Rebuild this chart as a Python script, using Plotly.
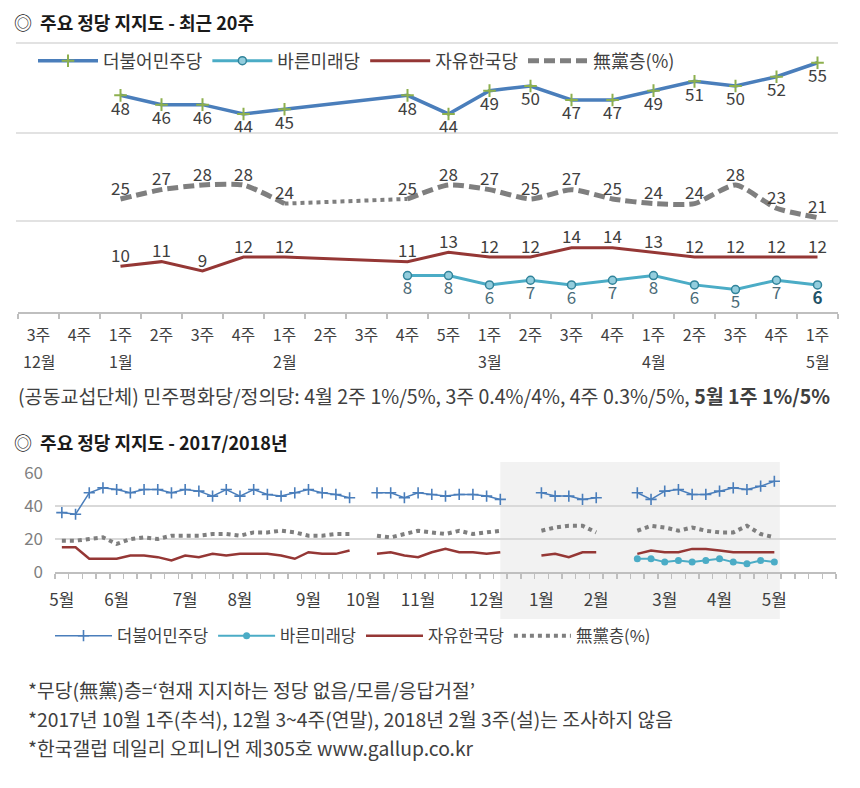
import plotly.graph_objects as go

# ---------------- data (weekly, 2017 May wk1 .. 2018 May wk1; None = no survey) -------------
minju = [36, 35, 48, 51, 50, 48, 50, 50, 48, 50, 49, 46, 50, 46, 50, 47, 46, 48, 50, 48, 47, 45,
         None,
         48, 48, 45, 48, 47, 46, 47, 47, 46, 44,
         None, None,
         48, 46, 46, 44, 45,
         None, None,
         48, 44, 49, 50, 47, 47, 49, 51, 50, 52, 55]
bareun = [None] * 42 + [8, 8, 6, 7, 6, 7, 8, 6, 5, 7, 6]
jayu = [15, 15, 8, 8, 8, 10, 10, 9, 7, 10, 9, 11, 10, 11, 11, 11, 10, 8, 12, 11, 11, 13,
        None,
        11, 12, 10, 9, 12, 14, 12, 12, 11, 12,
        None, None,
        10, 11, 9, 12, 12,
        None, None,
        11, 13, 12, 12, 14, 14, 13, 12, 12, 12, 12]
mudang = [19, 19, 20, 21, 17, 20, 21, 20, 22, 22, 22, 23, 23, 22, 24, 24, 25, 24, 22, 22, 23, 23,
          None,
          22, 21, 23, 25, 24, 23, 25, 23, 24, 25,
          None, None,
          25, 27, 28, 28, 24,
          None, None,
          25, 28, 27, 25, 27, 25, 24, 24, 28, 23, 21]

series_names = ["더불어민주당", "바른미래당", "자유한국당", "無黨층(%)"]

weeks_top = ["3주", "4주", "1주", "2주", "3주", "4주", "1주", "2주", "3주", "4주", "5주",
             "1주", "2주", "3주", "4주", "1주", "2주", "3주", "4주", "1주"]
months_top = ["12월", "", "1월", "", "", "", "2월", "", "", "", "", "3월", "", "", "",
              "4월", "", "", "", "5월"]

year_month_pos = [0, 4, 9, 13, 18, 22, 26, 31, 35, 39, 44, 48, 52]
year_month_labels = ["5월", "6월", "7월", "8월", "9월", "10월", "11월", "12월",
                     "1월", "2월", "3월", "4월", "5월"]
year_slots = 57

N_TOP = 20

# ---------------- styling helpers ----------------
W, H = 860, 788
FONT = "Noto Sans CJK KR"
TXT = "#404040"
GRID = "#d9d9d9"
AXC = "#bfbfbf"
C_BLUE, C_TEAL, C_RED, C_GRAY = "#4a7ebb", "#4bacc6", "#953735", "#7f7f7f"


def py(p):
    return 1 - p / H


def px(p):
    return p / W


def top(s):
    return s[-N_TOP:]


def labels(s):
    return ["" if v is None else str(v) for v in s]


xt = list(range(N_TOP))
xy = list(range(len(minju)))

fig = go.Figure()

# ---------------- top chart (recent 20 weeks) ----------------
fig.add_trace(go.Scatter(
    x=xt, y=top(minju), name=series_names[0], xaxis="x", yaxis="y", legend="legend",
    mode="lines+markers+text", text=labels(top(minju)), textposition="bottom center",
    textfont=dict(size=17, color=TXT, family=FONT), connectgaps=True, cliponaxis=False,
    line=dict(color=C_BLUE, width=3.5),
    marker=dict(symbol="cross-thin", size=9, color="#8db04e", line=dict(color="#8db04e", width=2))))

b_top = top(bareun)
b_txt = labels(b_top)
b_col = ["#4b6b78"] * N_TOP
last = max(i for i, v in enumerate(b_top) if v is not None)
b_txt[last] = "<b>" + b_txt[last] + "</b>"
b_col[last] = "#1f5468"
fig.add_trace(go.Scatter(
    x=xt, y=b_top, name=series_names[1], xaxis="x", yaxis="y3", legend="legend",
    mode="lines+markers+text", text=b_txt, textposition="bottom center",
    textfont=dict(size=17, color=b_col, family=FONT), cliponaxis=False,
    line=dict(color=C_TEAL, width=3),
    marker=dict(symbol="circle", size=8, color="#93cddd", line=dict(color="#31849b", width=1.5))))

fig.add_trace(go.Scatter(
    x=xt, y=top(jayu), name=series_names[2], xaxis="x", yaxis="y3", legend="legend",
    mode="lines+text", text=labels(top(jayu)), textposition="top center",
    textfont=dict(size=17, color=TXT, family=FONT), connectgaps=True, cliponaxis=False,
    line=dict(color=C_RED, width=3)))

m_top = top(mudang)
fig.add_trace(go.Scatter(
    x=xt, y=m_top, name=series_names[3], xaxis="x", yaxis="y2", legend="legend",
    mode="lines+text", text=labels(m_top), textposition="top center",
    textfont=dict(size=17, color=TXT, family=FONT), connectgaps=False, cliponaxis=False,
    line=dict(color=C_GRAY, width=5, dash="11px,5px", shape="spline", smoothing=0.6)))

# dotted bridge across the unsurveyed weeks of the non-partisan line
bridge = [None] * N_TOP
for i in range(1, N_TOP):
    if m_top[i] is not None and m_top[i - 1] is None:
        j = i - 1
        while j >= 0 and m_top[j] is None:
            j -= 1
        if j >= 0:
            bridge[j] = m_top[j]
            bridge[i] = m_top[i]
fig.add_trace(go.Scatter(
    x=xt, y=bridge, xaxis="x", yaxis="y2", mode="lines", connectgaps=True, showlegend=False,
    hoverinfo="skip", line=dict(color=C_GRAY, width=4, dash="dot")))

# ---------------- bottom chart (2017/2018) ----------------
fig.add_trace(go.Scatter(
    x=xy, y=minju, name=series_names[0], xaxis="x2", yaxis="y4", legend="legend2",
    mode="lines+markers", line=dict(color=C_BLUE, width=1.5),
    marker=dict(symbol="cross-thin", size=8, color=C_BLUE, line=dict(color=C_BLUE, width=1.6))))
fig.add_trace(go.Scatter(
    x=xy, y=bareun, name=series_names[1], xaxis="x2", yaxis="y4", legend="legend2",
    mode="lines+markers", line=dict(color=C_TEAL, width=2),
    marker=dict(symbol="circle", size=7, color=C_TEAL)))
fig.add_trace(go.Scatter(
    x=xy, y=jayu, name=series_names[2], xaxis="x2", yaxis="y4", legend="legend2",
    mode="lines", line=dict(color=C_RED, width=2.5)))
fig.add_trace(go.Scatter(
    x=xy, y=mudang, name=series_names[3], xaxis="x2", yaxis="y4", legend="legend2",
    mode="lines", line=dict(color=C_GRAY, width=4, dash="dot")))

# ---------------- axes ----------------
minor_ticks = dict(ticks="outside", tickmode="linear", tick0=-0.5, dtick=1, ticklen=5,
                   tickwidth=1.5, tickcolor=AXC, showgrid=False)
fig.update_layout(
    xaxis=dict(domain=[px(18), px(838)], range=[-0.5, N_TOP - 0.5], anchor="y3",
               tickmode="array", tickvals=xt, ticktext=weeks_top, ticks="",
               showline=True, linecolor=AXC, linewidth=1.5, showgrid=False, zeroline=False,
               minor=minor_ticks, ticklabelstandoff=8, automargin=False,
               tickfont=dict(size=16, color=TXT, family=FONT)),
    yaxis=dict(domain=[py(133), py(43)], range=[39.9, 59.25], visible=False, anchor="x",
               automargin=False),
    yaxis2=dict(domain=[py(221), py(133)], range=[20.26, 39.18], visible=False, anchor="x",
                automargin=False),
    yaxis3=dict(domain=[py(312), py(221)], range=[0.17, 19.74], visible=False, anchor="x",
                automargin=False),
    xaxis2=dict(domain=[px(55), px(836)], range=[-0.5, year_slots - 0.5], anchor="y4",
                tickmode="array", tickvals=year_month_pos, ticktext=year_month_labels, ticks="",
                showline=True, linecolor=AXC, linewidth=1.5, showgrid=False, zeroline=False,
                minor=minor_ticks, ticklabelstandoff=12, automargin=False,
                tickfont=dict(size=17, color=TXT, family=FONT)),
    yaxis4=dict(domain=[py(572), py(473)], range=[0, 60], anchor="x2",
                tickmode="array", tickvals=[0, 20, 40, 60], ticks="",
                showgrid=True, gridcolor=GRID, gridwidth=1.5, zeroline=False, showline=False,
                ticklabelstandoff=11, automargin=False,
                tickfont=dict(size=17, color=C_GRAY, family=FONT)),
)

# ---------------- legends ----------------
fig.update_layout(
    legend=dict(orientation="h", x=px(33), y=py(61), xanchor="left", yanchor="middle",
                font=dict(size=18, color=TXT, family=FONT), bgcolor="rgba(0,0,0,0)",
                itemwidth=60, traceorder="normal", itemclick=False, itemdoubleclick=False),
    legend2=dict(orientation="h", x=px(50), y=py(636), xanchor="left", yanchor="middle",
                 font=dict(size=16.5, color=TXT, family=FONT), bgcolor="rgba(0,0,0,0)",
                 itemwidth=57, traceorder="normal", itemclick=False, itemdoubleclick=False),
)

# ---------------- decorations ----------------
shapes = []
for yy in (43, 133, 221):
    shapes.append(dict(type="line", xref="paper", yref="paper", x0=px(16), x1=px(838),
                       y0=py(yy), y1=py(yy), line=dict(color=GRID, width=1.5)))
shapes.append(dict(type="rect", xref="x2", yref="paper", x0=32.0, x1=52.4,
                   y0=py(619), y1=py(462), fillcolor="#f2f2f2", line=dict(width=0),
                   layer="below"))

annotations = []
for i, m in enumerate(months_top):
    if m:
        annotations.append(dict(x=i, xref="x", y=py(361), yref="paper", text=m,
                                showarrow=False, font=dict(size=16, color=TXT, family=FONT)))


def note(text, x, y, size, color=TXT):
    annotations.append(dict(x=px(x), y=py(y), xref="paper", yref="paper", text=text,
                            xanchor="left", yanchor="middle", showarrow=False,
                            font=dict(size=size, color=color, family=FONT)))


note("◎  <b>주요 정당 지지도 - 최근 20주</b>", 12, 22, 18, "#1a1a1a")
note("(공동교섭단체) 민주평화당/정의당: 4월 2주 1%/5%, 3주 0.4%/4%, 4주 0.3%/5%, "
     "<b>5월 1주 1%/5%</b>", 16, 396, 19.5)
note("◎  <b>주요 정당 지지도 - 2017/2018년</b>", 12, 442, 18, "#1a1a1a")
note("*무당(無黨)층=‘현재 지지하는 정당 없음/모름/응답거절’", 26, 690, 19.3)
note("*2017년 10월 1주(추석), 12월 3~4주(연말), 2018년 2월 3주(설)는 조사하지 않음", 26, 719, 19.3)
note("*한국갤럽 데일리 오피니언 제305호 www.gallup.co.kr", 26, 748, 19.3)

fig.update_layout(
    width=W, height=H, margin=dict(l=0, r=0, t=0, b=0, autoexpand=False),
    paper_bgcolor="white", plot_bgcolor="rgba(0,0,0,0)",
    font=dict(family=FONT, color=TXT), shapes=shapes, annotations=annotations,
    hovermode=False,
)

fig.write_html("out.html", config={"displayModeBar": False, "staticPlot": True},
               post_script="document.body.style.margin='0';document.body.style.overflow='hidden';")
